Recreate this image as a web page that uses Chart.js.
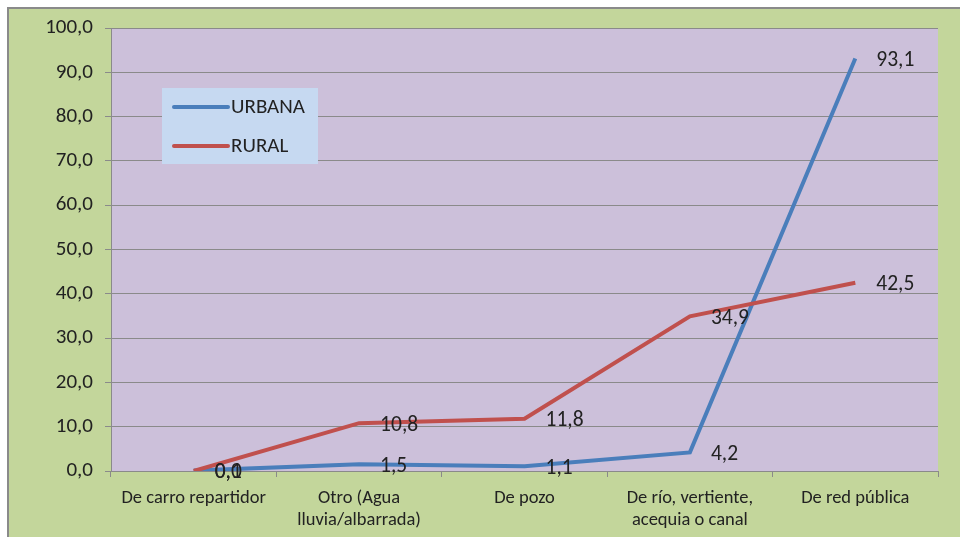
<!DOCTYPE html>
<html>
<head>
<meta charset="utf-8">
<script src="https://cdn.jsdelivr.net/npm/chart.js@4/dist/chart.umd.min.js"></script>
<style>
  html, body { margin: 0; padding: 0; background: #ffffff; overflow: hidden; }
  #wrap { position: absolute; left: 7px; top: 7px; width: 951px; height: 528px;
          border-left: 2px solid #8a8a8a; border-top: 2px solid #8a8a8a; background: #c3d69b; }
  canvas { display: block; }
</style>
</head>
<body>
<div id="wrap"><canvas id="c" width="951" height="528"></canvas></div>
<script>
const categories = [
  'De carro repartidor',
  ['Otro (Agua', 'lluvia/albarrada)'],
  'De pozo',
  ['De río, vertiente,', 'acequia o canal'],
  'De red pública'
];
const urbana = [0.1, 1.5, 1.1, 4.2, 93.1];
const rural = [0.0, 10.8, 11.8, 34.9, 42.5];
const seriesNames = ['URBANA', 'RURAL'];
const seriesColors = ['#4a7ebb', '#c0504d'];

const FONT = 'Carlito, Lato, "Liberation Sans", sans-serif';
const TEXT = '#222222';
const GRID = '#8a8a8a';
const fmt = v => Number(v).toFixed(1).replace('.', ',');

Chart.defaults.font.family = FONT;
Chart.defaults.font.size = 21;
Chart.defaults.color = TEXT;

const plotBg = {
  id: 'plotBg',
  beforeDraw(chart) {
    const { ctx, chartArea: a } = chart;
    ctx.save();
    ctx.fillStyle = '#ccc0da';
    ctx.fillRect(a.left, a.top, a.right - a.left, a.bottom - a.top);
    ctx.restore();
  }
};

const valueLabels = {
  id: 'valueLabels',
  afterDatasetsDraw(chart) {
    const ctx = chart.ctx;
    ctx.save();
    ctx.font = '21.5px ' + FONT;
    ctx.fillStyle = TEXT;
    ctx.textAlign = 'left';
    ctx.textBaseline = 'middle';
    chart.data.datasets.forEach((ds, i) => {
      const meta = chart.getDatasetMeta(i);
      meta.data.forEach((pt, j) => {
        ctx.fillText(fmt(ds.data[j]), pt.x + 21, pt.y + 2);
      });
    });
    ctx.restore();
  }
};

const boxLegend = {
  id: 'boxLegend',
  afterDraw(chart) {
    const ctx = chart.ctx;
    ctx.save();
    ctx.fillStyle = '#c6d9f1';
    ctx.fillRect(153, 79, 156, 76);
    ctx.lineWidth = 4;
    ctx.lineCap = 'round';
    ctx.font = '21px ' + FONT;
    ctx.textAlign = 'left';
    ctx.textBaseline = 'middle';
    chart.data.datasets.forEach((ds, i) => {
      const y = 98 + i * 39;
      ctx.strokeStyle = ds.borderColor;
      ctx.beginPath();
      ctx.moveTo(165, y);
      ctx.lineTo(219, y);
      ctx.stroke();
      ctx.fillStyle = TEXT;
      ctx.fillText(ds.label, 222, y + 1);
    });
    ctx.restore();
  }
};

new Chart(document.getElementById('c'), {
  type: 'line',
  data: {
    labels: categories,
    datasets: [
      { label: seriesNames[0], data: urbana, borderColor: seriesColors[0], backgroundColor: seriesColors[0],
        borderWidth: 4, pointRadius: 0, tension: 0, order: 1 },
      { label: seriesNames[1], data: rural, borderColor: seriesColors[1], backgroundColor: seriesColors[1],
        borderWidth: 4, pointRadius: 0, tension: 0, order: 0 }
    ]
  },
  options: {
    responsive: false,
    animation: false,
    layout: { padding: { left: 0, top: 19, right: 22, bottom: 0 } },
    plugins: { legend: { display: false }, tooltip: { enabled: false } },
    scales: {
      x: {
        offset: true,
        grid: { offset: true, drawOnChartArea: false, drawTicks: true, tickLength: 6, color: GRID },
        border: { display: true, color: GRID, width: 1 },
        ticks: { padding: 11, maxRotation: 0, autoSkip: false, color: TEXT,
                 font: { size: 18.5, lineHeight: 1.17 } },
        afterFit: s => { s.height = 66; s.paddingLeft = 0; s.paddingRight = 0; }
      },
      y: {
        min: 0, max: 100,
        grid: { color: GRID, tickLength: 6, drawTicks: true },
        border: { display: true, color: GRID, width: 1 },
        ticks: { stepSize: 10, padding: 12, color: TEXT, callback: v => fmt(v) },
        afterFit: s => { s.width = 102; s.paddingTop = 0; s.paddingBottom = 0; }
      }
    }
  },
  plugins: [plotBg, valueLabels, boxLegend]
});
</script>
</body>
</html>
